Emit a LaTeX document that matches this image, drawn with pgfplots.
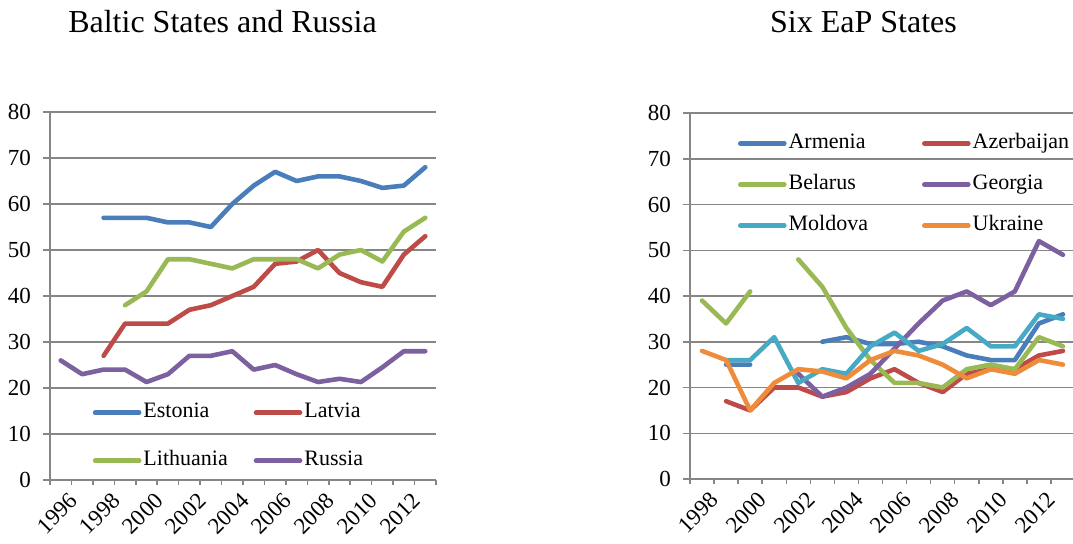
\documentclass[border=0pt]{standalone}
\usepackage{fontspec}
\setmainfont{Liberation Serif}
\usepackage{pgfplots}
\pgfplotsset{compat=1.18}
\definecolor{cBlue}{HTML}{4A7EBB}
\definecolor{cRed}{HTML}{BE4B48}
\definecolor{cGreen}{HTML}{98B954}
\definecolor{cPurple}{HTML}{7D60A0}
\definecolor{cTeal}{HTML}{46AAC5}
\definecolor{cOrange}{HTML}{EE8C3C}
\definecolor{gridgray}{RGB}{134,134,134}
\pgfplotsset{
  excel/.style={
    scale only axis,
    axis x line*=bottom, axis y line*=left,
    axis line style={draw=gridgray, line width=0.75pt, -},
    ymin=0, ymax=80, ytick={0,10,...,80},
    ymajorgrids, grid style={draw=gridgray, line width=0.75pt},
    tick align=outside,
    major tick length=3.5pt, minor tick length=2.5pt,
    major x tick style={draw=none},
    minor x tick style={draw=gridgray, line width=0.75pt},
    major y tick style={draw=gridgray, line width=0.75pt},
    /pgf/number format/assume math mode=true,
    tick label style={font=\fontsize{11.5}{13}\selectfont},
    yticklabel style={xshift=-2.5pt},
    xticklabel style={rotate=45, anchor=north east, inner sep=1pt, xshift=2pt, yshift=-3pt},
    unbounded coords=jump,
    clip=false,
    every axis plot/.append style={line width=2.3pt, line join=round, line cap=round},
    legend columns=2,
    legend cell align=left,
    legend image code/.code={\draw[#1, line width=2.3pt, line cap=round] (0pt,0pt) -- (22pt,0pt);},
    legend style={draw=none, fill=none, inner sep=0pt, outer sep=0pt,
      font=\fontsize{11}{13}\selectfont,
      nodes={inner sep=1pt, text height=8pt, text depth=3pt}},
  }
}
\begin{document}
\begin{tikzpicture}
\path[use as bounding box] (0,0) rectangle (536.5pt,271.5pt);
\node[anchor=base, font=\fontsize{16}{19}\selectfont] at (111.25pt,255.5pt) {Baltic States and Russia};
\node[anchor=base, font=\fontsize{16}{19}\selectfont] at (431.75pt,255.5pt) {Six EaP States};
\begin{axis}[excel,
  at={(25pt,31.5pt)}, anchor=south west,
  width=193pt, height=184pt,
  xmin=1995.5, xmax=2013.5,
  xtick={1996,1998,2000,2002,2004,2006,2008,2010,2012},
  xticklabels={1996,1998,2000,2002,2004,2006,2008,2010,2012},
  minor xtick={1995.5,1996.5,...,2013.5},
  legend style={at={(axis description cs:0.111,0.218)}, anchor=north west,
    row sep=11pt, /tikz/column 2/.style={column sep=12pt}},
]
\addplot[cBlue] coordinates {(1998,57) (1999,57) (2000,57) (2001,56) (2002,56) (2003,55) (2004,60) (2005,64) (2006,67) (2007,65) (2008,66) (2009,66) (2010,65) (2011,63.5) (2012,64) (2013,68)};
\addlegendentry{Estonia}
\addplot[cRed] coordinates {(1998,27) (1999,34) (2000,34) (2001,34) (2002,37) (2003,38) (2004,40) (2005,42) (2006,47) (2007,47.5) (2008,50) (2009,45) (2010,43) (2011,42) (2012,49) (2013,53)};
\addlegendentry{Latvia}
\addplot[cGreen] coordinates {(1999,38) (2000,41) (2001,48) (2002,48) (2003,47) (2004,46) (2005,48) (2006,48) (2007,48) (2008,46) (2009,49) (2010,50) (2011,47.5) (2012,54) (2013,57)};
\addlegendentry{Lithuania}
\addplot[cPurple] coordinates {(1996,26) (1997,23) (1998,24) (1999,24) (2000,21.3) (2001,23) (2002,27) (2003,27) (2004,28) (2005,24) (2006,25) (2007,23) (2008,21.3) (2009,22) (2010,21.3) (2011,24.5) (2012,28) (2013,28)};
\addlegendentry{Russia}
\end{axis}
\begin{axis}[excel,
  at={(345pt,32pt)}, anchor=south west,
  width=192.5pt, height=183pt,
  xmin=1997.5, xmax=2013.5,
  xtick={1998,2000,2002,2004,2006,2008,2010,2012},
  xticklabels={1998,2000,2002,2004,2006,2008,2010,2012},
  minor xtick={1997.5,1998.5,...,2013.5},
  legend style={at={(axis description cs:0.1247,0.952)}, anchor=north west,
    row sep=7.5pt, /tikz/column 2/.style={column sep=26pt}},
]
\addplot[cBlue] coordinates {(1999,25) (2000,25) (2001,nan) (2003,30) (2004,31) (2005,29.5) (2006,29.5) (2007,30) (2008,29) (2009,27) (2010,26) (2011,26) (2012,34) (2013,36)};
\addlegendentry{Armenia}
\addplot[cRed] coordinates {(1999,17) (2000,15) (2001,20) (2002,20) (2003,18) (2004,19) (2005,22) (2006,24) (2007,21) (2008,19) (2009,23) (2010,24) (2011,24) (2012,27) (2013,28)};
\addlegendentry{Azerbaijan}
\addplot[cGreen] coordinates {(1998,39) (1999,34) (2000,41) (2001,nan) (2002,48) (2003,42) (2004,33) (2005,26) (2006,21) (2007,21) (2008,20) (2009,24) (2010,25) (2011,24) (2012,31) (2013,29)};
\addlegendentry{Belarus}
\addplot[cPurple] coordinates {(2002,23) (2003,18) (2004,20) (2005,23) (2006,28.5) (2007,34) (2008,39) (2009,41) (2010,38) (2011,41) (2012,52) (2013,49)};
\addlegendentry{Georgia}
\addplot[cTeal] coordinates {(1999,26) (2000,26) (2001,31) (2002,21) (2003,24) (2004,23) (2005,29) (2006,32) (2007,28) (2008,29.5) (2009,33) (2010,29) (2011,29) (2012,36) (2013,35)};
\addlegendentry{Moldova}
\addplot[cOrange] coordinates {(1998,28) (1999,26) (2000,15) (2001,21) (2002,24) (2003,23.5) (2004,22) (2005,26) (2006,28) (2007,27) (2008,25) (2009,22) (2010,24) (2011,23) (2012,26) (2013,25)};
\addlegendentry{Ukraine}
\end{axis}
\end{tikzpicture}
\end{document}
